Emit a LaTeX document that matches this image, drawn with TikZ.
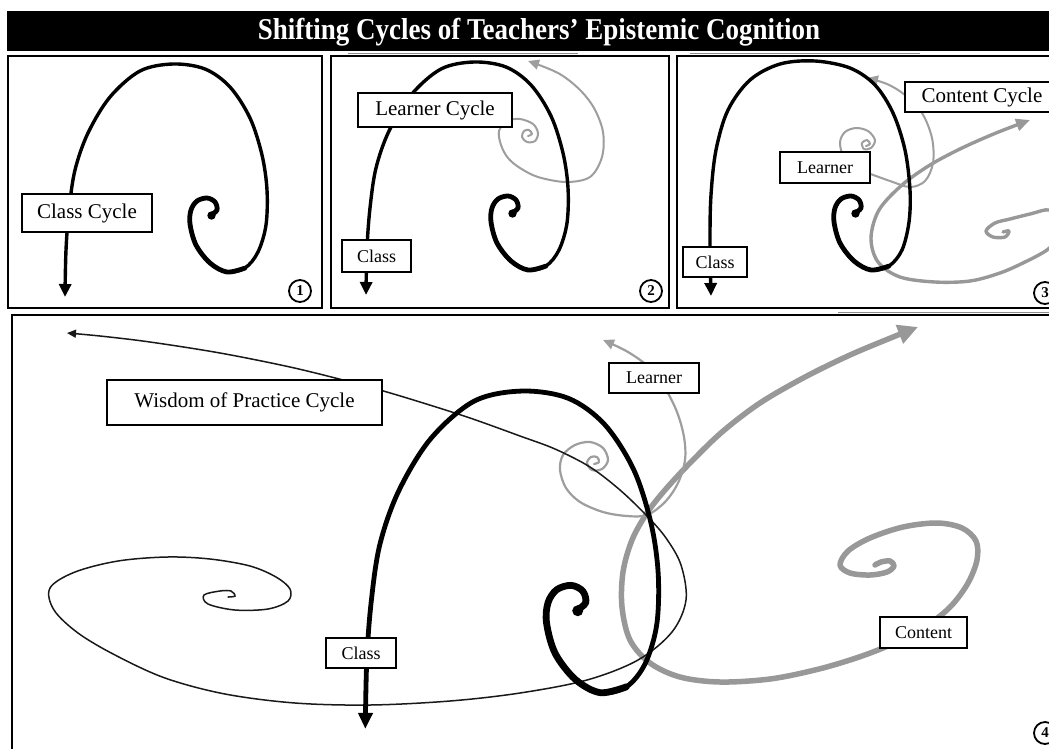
\documentclass[tikz,border=0pt]{standalone}
\usepackage{fontspec}
\setmainfont{Liberation Serif}
\usetikzlibrary{arrows.meta}
\definecolor{lgray}{RGB}{158,158,158}
\definecolor{cgray}{RGB}{152,152,152}
\tikzset{
  panel/.style={draw=black, line width=2.5pt},
  lab/.style={draw=black, fill=white, line width=2.4pt, inner sep=0pt, font=\fontsize{21}{24}\selectfont},
  slab/.style={lab, font=\fontsize{18}{21}\selectfont},
  num/.style={circle, draw=black, line width=1.8pt, minimum size=22pt, inner sep=0pt, font=\bfseries\fontsize{15}{16}\selectfont},
  classline/.style={draw=black, line cap=round, line join=round},
  learnline/.style={draw=lgray, line cap=round, line join=round},
  contline/.style={draw=cgray, line cap=round, line join=round},
  wisline/.style={draw=black!90, line width=1.5pt, line cap=round},
  artifact/.style={draw=black!45, line width=0.8pt},
}
\newcommand\classspiral[1]{\draw[classline,#1] plot[smooth,tension=0.55] coordinates {(0,0) (6,-5) (4,-13) (-4,-17) (-14,-14) (-20,-5) (-21,9) (-15,30) (-1,48) (16,57) (34,53) (47,37) (55,10) (56,-25) (51,-60) (39,-97) (19,-128) (-6,-146) (-38,-151) (-71,-144) (-101,-118) (-123,-82) (-136,-45) (-142,-5) (-145,35) (-146,82)};}
\newcommand\classcore[2]{\draw[classline,#1] plot[smooth,tension=0.55] coordinates {(0,0) (6,-5) (4,-13) (-4,-17) (-14,-14) (-20,-5) (-21,9) (-15,30) (-1,48) (16,57) (34,53)};
  \fill[black,#1] (0.5,0.5) circle[radius=#2];}
\begin{document}
\begin{tikzpicture}[x=1pt,y=-1pt]
\useasboundingbox (0,0) rectangle (1049,748);
\clip (0,0) rectangle (1049,748);
\fill[white] (0,0) rectangle (1049,748);

% title bar
\fill[black] (7,11) rectangle (1065,51);
\node[text=white, font=\bfseries\fontsize{27}{30}\selectfont] (title) at (539,32) {\scalebox{1}[1.12]{Shifting Cycles of Teachers’ Epistemic Cognition}};

% panels
\draw[panel] (8,56) rectangle (322,308);
\draw[panel] (331,56) rectangle (669,308);
\draw[panel] (677,56) rectangle (1070,308);
\draw[panel] (12,315) rectangle (1070,770);
\draw[artifact] (348,53) -- (578,53);
\draw[artifact] (690,53) -- (920,53);
\draw[artifact] (838,312) -- (1049,312);

% ---------- panel 1 ----------
\classspiral{line width=3.4pt, shift={(211,215)}, -{Triangle[length=13pt,width=12pt]}}
\classcore{line width=4.8pt, shift={(211,215)}}{4.2}
\node[lab, minimum width=130pt, minimum height=38pt] (cc1) at (87,213) {Class Cycle};
\node[num] (n1) at (300,291) {1};

% ---------- panel 2 ----------
\draw[learnline, line width=2pt, -{Triangle[length=11pt,width=10pt]}] plot[smooth,tension=0.55] coordinates {(528,136) (532,134) (529,130) (524,131) (522,137) (527,142) (535,141) (538,133) (533,124) (520,119) (507,121) (499,131) (501,145) (508,158) (520,168) (538,177) (566,182) (590,177) (602,157) (603,132) (594,108) (579,89) (558,73) (528,61)};
\classspiral{line width=3.4pt, shift={(512,213)}, -{Triangle[length=13pt,width=12pt]}}
\classcore{line width=4.8pt, shift={(512,213)}}{4.2}
\node[lab, minimum width=154pt, minimum height=34pt] (lc2) at (435,110) {Learner Cycle};
\node[slab, minimum width=69pt, minimum height=32pt] (c2) at (376.5,256) {Class};
\node[num] (n2) at (651,291) {2};

% ---------- panel 3 ----------
\draw[contline, line width=3.4pt, -{Triangle[length=14pt,width=12pt]}] plot[smooth,tension=0.55] coordinates {(1003,232) (1009,231) (1005,237) (993,237) (986,231) (995,223) (1010,219) (1030,214) (1050,210) (1062,222) (1058,238) (1047,250) (1025,262) (1000,273) (970,281) (935,282) (900,277) (878,262) (871,238) (879,210) (902,185) (930,165) (962,148) (996,133) (1030,120)};
\draw[learnline, line width=2pt, -{Triangle[length=11pt,width=10pt]}] plot[smooth,tension=0.55] coordinates {(866,146) (870,144) (867,140) (862,143) (864,149) (871,148) (875,140) (868,131) (856,128) (845,132) (840,142) (843,155) (853,167) (868,173) (890,181) (910,187) (925,181) (933,163) (932,138) (922,113) (905,95) (887,84) (867,78)};
\draw[classline, line width=3.4pt, -{Triangle[length=13pt,width=12pt]}] plot[smooth,tension=0.55] coordinates {(855,213) (861,208) (859,200) (851,196) (841,199) (835,208) (834,222) (840,243) (854,261) (871,270) (889,266) (902,250) (909,222) (910,190) (905,150) (893,113) (875,85) (850,68) (815,61) (780,64) (750,80) (728,110) (716,150) (711,195) (710,240) (711,296)};
\classcore{line width=4.8pt, shift={(855,213)}}{4.2}
\node[lab, minimum width=154pt, minimum height=30pt] (cc3) at (982,97) {Content Cycle};
\node[slab, minimum width=90pt, minimum height=31pt] (l3) at (825,167.5) {Learner};
\node[slab, minimum width=64pt, minimum height=30pt] (c3) at (715,262) {Class};
\node[num] (n3) at (1045,293) {3};

% ---------- panel 4 ----------
\draw[contline, line width=5.5pt, -{Triangle[length=20pt,width=19pt]}] plot[smooth,tension=0.55] coordinates {(875,565) (881,562) (890,561) (894,566) (887,572) (870,575) (850,573) (840,565) (848,551) (870,538) (903,527) (937,523) (962,528) (976,541) (977,560) (968,583) (952,605) (932,622) (905,638) (878,650) (850,660) (815,670) (770,679) (720,682) (680,677) (650,663) (630,640) (622,607) (623,572) (632,540) (647,513) (665,490) (690,463) (722,432) (760,403) (805,377) (850,355) (893,337) (918,327)};
\draw[learnline, line width=2.2pt, -{Triangle[length=11pt,width=10pt]}] plot[smooth,tension=0.55] coordinates {(594,464) (599,462) (597,457) (591,457) (587,463) (592,470) (602,469) (608,460) (603,448) (590,442) (575,445) (563,455) (560,470) (566,488) (580,502) (603,512) (627,516) (647,515) (665,502) (678,483) (685,460) (684,437) (677,412) (665,388) (650,368) (628,352) (603,340)};
\draw[wisline, -{Triangle[length=9pt,width=8pt]}] plot[smooth,tension=0.55] coordinates {(228,597) (235,596) (231,591) (220,591) (204,595) (208,604) (235,610) (268,609) (288,601) (290,589) (276,577) (250,566) (210,559) (167,557) (118,561) (75,572) (50,588) (54,610) (78,633) (115,655) (165,678) (225,694) (295,703) (370,705) (450,701) (520,693) (587,680) (638,660) (672,632) (686,600) (681,565) (666,538) (647,516) (620,490) (590,467) (555,449) (520,436) (470,418) (420,402) (380,390) (347,381) (290,367) (220,353) (150,342) (100,336) (67,333)};
\classspiral{line width=4.8pt, shift={(577,610)}, scale=1.45, -{Triangle[length=16pt,width=14pt]}}
\classcore{line width=6.8pt, shift={(577,610)}, scale=1.45}{3.8}
\node[lab, minimum width=275pt, minimum height=45pt] (w4) at (244.5,402.5) {Wisdom of Practice Cycle};
\node[slab, minimum width=70pt, minimum height=30pt] (c4) at (361,653) {Class};
\node[slab, minimum width=90pt, minimum height=30pt] (l4) at (654,378) {Learner};
\node[slab, minimum width=87pt, minimum height=31pt] (ct4) at (923.5,632.5) {Content};
\node[num] (n4) at (1045,733) {4};
\end{tikzpicture}
\end{document}
